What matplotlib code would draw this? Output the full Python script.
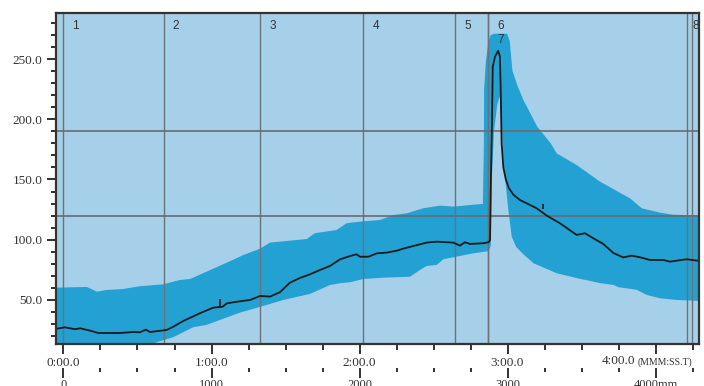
import matplotlib.pyplot as plt
from matplotlib.ticker import MultipleLocator, FixedLocator

# mean trace (time in s, value)
mean_t = [-3.2, 0.6, 4.7, 6.7, 10.7, 14.1, 22.9, 28.3, 31.0, 33.4, 35.0, 41.8, 44.5,
          48.6, 55.3, 60.7, 64.5, 66.2, 71.5, 75.6, 79.7, 83.7, 87.7, 91.8, 95.9,
          99.9, 104.0, 108.0, 112.1, 116.2, 118.8, 120.2, 123.6, 127.0, 131.0, 135.1,
          137.7, 141.8, 147.2, 151.3, 158.0, 160.7, 162.7, 164.8, 170.2, 172.4, 172.9,
          173.2, 173.7, 174.0, 174.9, 176.2, 176.9, 177.2, 177.6, 178.3, 179.3, 180.5,
          182.3, 185.0, 187.8, 191.8, 195.9, 201.3, 208.0, 211.4, 214.1, 218.8, 222.9,
          226.9, 230.3, 234.4, 237.7, 243.1, 245.8, 252.6, 257.8]
mean_v = [26.0, 27.3, 25.7, 26.5, 24.6, 22.6, 22.6, 23.4, 23.2, 25.4, 23.4, 25.1, 27.8,
          32.6, 39.0, 43.6, 44.4, 47.2, 48.9, 50.0, 53.3, 52.8, 56.4, 64.4, 68.3,
          71.3, 74.9, 78.2, 83.7, 86.5, 87.9, 85.9, 85.9, 88.7, 89.3, 90.9,
          92.6, 94.8, 97.6, 98.4, 97.6, 95.1, 97.9, 96.5, 97.1, 98.0, 99.8,
          144.0, 199.4, 243.6, 251.9, 256.9, 251.9, 227.0, 180.0, 160.0, 150.0, 143.0,
          137.5, 133.0, 130.2, 126.1, 120.0, 113.6, 104.0, 105.4, 102.0, 96.5, 89.0,
          85.3, 86.8, 85.1, 83.2, 83.2, 81.8, 83.8, 82.4]

# band upper / lower edges
up_t = [-3.5, 9.4, 10.7, 13.5, 17.5, 24.2, 31.0, 40.5, 47.2, 51.3, 58.0, 66.2, 72.9,
        79.6, 83.7, 98.6, 101.9, 110.7, 114.8, 120.2, 128.3, 133.7, 139.1, 145.8,
        152.6, 158.0, 164.8, 170.0, 170.4, 170.5, 171.2, 172.2, 173.0, 174.5, 179.8,
        180.9, 181.3, 182.0, 184.0, 186.4, 192.0, 197.5, 199.9, 208.0, 217.5, 229.6,
        234.4, 241.8, 247.0, 252.6, 258.0]
up_v = [60.2, 60.8, 59.7, 56.9, 58.3, 59.1, 61.4, 63.0, 66.6, 67.4, 73.5, 81.0, 87.3,
        92.5, 97.6, 100.6, 105.4, 108.1, 113.7, 115.0, 116.4, 120.5, 121.9, 126.1,
        128.3, 127.5, 128.8, 129.7, 180.0, 225.0, 248.0, 263.0, 269.5, 271.0, 271.0,
        265.0, 255.0, 240.0, 228.0, 216.0, 194.0, 180.0, 171.7, 162.0, 148.2, 134.4,
        126.1, 122.5, 120.8, 120.5, 120.5]
lo_t = [-3.5, 20.0, 35.0, 44.5, 52.6, 58.0, 63.4, 71.5, 79.6, 89.1, 99.9, 108.0, 112.1,
        116.2, 121.5, 129.6, 140.5, 144.5, 147.2, 151.3, 154.0, 159.4, 166.1, 172.2,
        173.2, 173.6, 174.5, 175.8, 176.8, 177.5, 178.3, 179.3, 180.3, 181.7, 183.5,
        186.4, 190.5, 199.9, 208.0, 217.5, 222.9, 224.9, 232.3, 236.4, 241.8, 248.6,
        258.0]
lo_v = [-10.0, 4.0, 13.2, 19.1, 27.4, 29.3, 33.4, 39.5, 44.2, 50.0, 55.0, 62.4, 63.9,
        64.7, 67.4, 68.5, 69.3, 74.9, 78.2, 79.1, 83.8, 86.0, 88.7, 90.5,
        95.0, 150.0, 190.0, 212.0, 219.0, 205.0, 166.0, 145.0, 125.0, 102.5, 94.0,
        88.0, 80.5, 72.2, 68.2, 64.0, 62.5, 60.6, 58.5, 54.2, 51.4, 50.0,
        49.2]

# event lines
event_t = [0.0, 40.6, 79.8, 121.5, 158.7, 172.2, 172.2, 252.6]
event_labels = ['1', '2', '3', '4', '5', '6', '7', '8']
end_t = 254.9
ref_levels = [120, 190]

# small marks on trace
mark_t = [63.5, 194.2]
mark_lo = [45.0, 125.3]
mark_hi = [50.5, 129.7]

time_ticks = [0, 60, 120, 180]
time_labels = ['0:00.0', '1:00.0', '2:00.0', '3:00.0']
dist_ticks = [0, 1000, 2000, 3000, 4000]
dist_labels = ['0', '1000', '2000', '3000', '4000mm']

light = '#a6d0e9'
band = '#23a1d3'
serif = 'Liberation Serif'

fig = plt.figure(figsize=(7.04, 3.86), dpi=100)
ax = fig.add_axes([0.0791, 0.108, 0.9145, 0.8596])
ax.set_facecolor(light)

ax.fill(up_t + lo_t[::-1], up_v + lo_v[::-1], color=band, lw=0, zorder=1)
for t in event_t + [end_t]:
    ax.axvline(t, color='#6a7378', lw=1.0, zorder=2)
for v in ref_levels:
    ax.axhline(v, color='#686c70', lw=1.2, zorder=2)
ax.plot(mean_t, mean_v, color='#1b1b1b', lw=1.3, zorder=3)
ax.vlines(mark_t, mark_lo, mark_hi, color='#1b1b1b', lw=1.2, zorder=3)

for t, lab in zip(event_t, event_labels):
    dy = -27 if lab == '7' else -13
    dx = 6 if lab == '8' else 9
    ax.annotate(lab, xy=(t, 1), xycoords=ax.get_xaxis_transform(),
                xytext=(dx, dy), textcoords='offset pixels', ha='left', va='center',
                fontsize=8.5, family='Liberation Sans', color='#333333')

ax.set_xlim(-3.16, 257.8)
ax.set_ylim(13.2, 288.6)

for s in ax.spines.values():
    s.set_color('#333333')
    s.set_linewidth(1.6)
    s.set_zorder(5)

ax.set_yticks([50, 100, 150, 200, 250], labels=['50.0', '100.0', '150.0', '200.0', '250.0'])
ax.yaxis.set_minor_locator(FixedLocator([v for v in range(20, 290, 10) if v % 50]))
ax.tick_params(axis='y', which='major', length=6.5, width=1.3, pad=3, color='#222222',
               labelsize=9.5, labelcolor='#333333')
ax.tick_params(axis='y', which='minor', length=3.6, width=1.3, color='#222222')

ax.set_xticks(time_ticks + [240], labels=time_labels + [''])
ax.xaxis.set_minor_locator(MultipleLocator(15))
ax.tick_params(axis='x', which='major', length=7, width=1.3, pad=2, color='#222222',
               labelsize=9.5, labelcolor='#333333')
ax.tick_params(axis='x', which='minor', length=4.3, width=1.3, color='#222222')
for lab in ax.get_xticklabels() + ax.get_yticklabels():
    lab.set_family(serif)

ax.annotate('4:00.0', xy=(240, 0), xycoords=ax.get_xaxis_transform(),
            xytext=(-20, -17), textcoords='offset pixels', ha='right', va='center',
            fontsize=9.5, family=serif, color='#333333')
ax.annotate('(MMM:SS.T)', xy=(240, 0), xycoords=ax.get_xaxis_transform(),
            xytext=(-18, -18), textcoords='offset pixels', ha='left', va='center',
            fontsize=7, family=serif, color='#333333')

sec = ax.secondary_xaxis(-0.0723, functions=(lambda t: t * 1000 / 60,
                                             lambda d: d * 60 / 1000))
sec.set_alignment('bottom')
sec.spines['bottom'].set_visible(False)
sec.set_xticks(dist_ticks, labels=dist_labels)
sec.xaxis.set_minor_locator(MultipleLocator(250))
sec.tick_params(axis='x', which='major', length=7, width=1.3, pad=1, color='#222222',
                labelsize=9, labelcolor='#333333')
sec.tick_params(axis='x', which='minor', length=3.2, width=1.3, color='#222222')
for lab in sec.get_xticklabels():
    lab.set_family(serif)

fig.savefig('out.png', dpi=100)
